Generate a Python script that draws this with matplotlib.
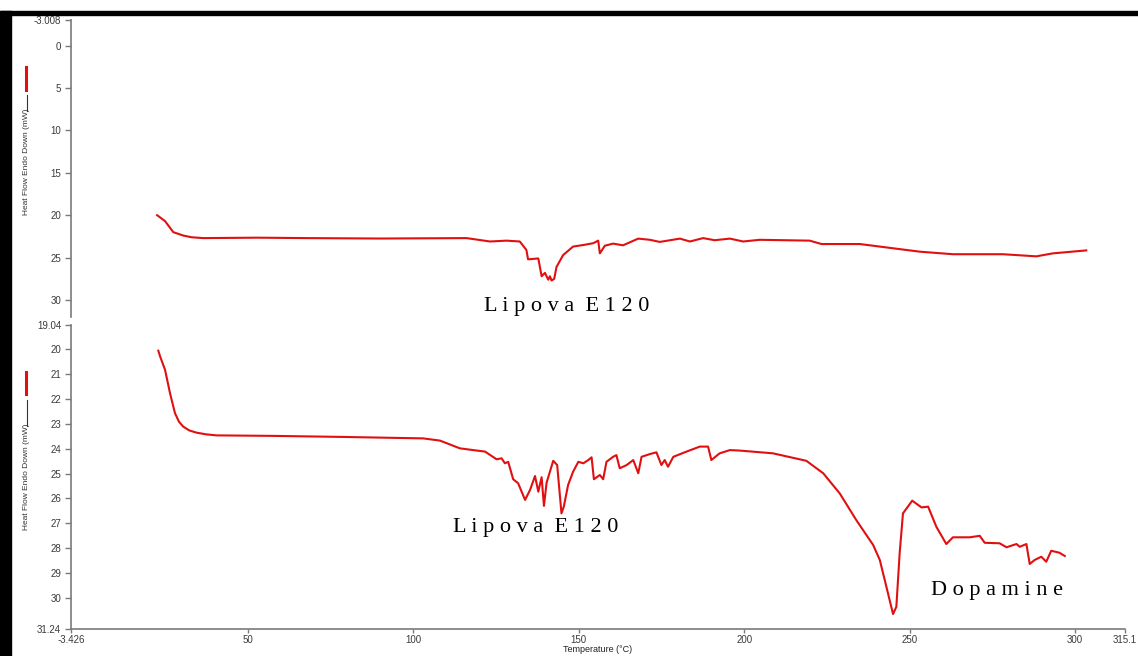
import matplotlib
matplotlib.use("Agg")
import matplotlib.pyplot as plt
from matplotlib.lines import Line2D
from matplotlib.patches import Rectangle

# DSC-Kurven: Lipova E120 allein (oben) und Mischung mit Dopamin (unten)
temp_e120 = [22.6, 25.0, 27.5, 30.5, 33.0, 36.5, 52.7, 67.8, 90.0, 116.1, 123.2,
             128.2, 132.2, 134.2, 134.7, 137.8, 138.8, 139.8, 140.8, 141.3, 141.8,
             142.6, 143.3, 145.3, 148.3, 151.6, 154.4, 155.9, 156.4, 157.9, 160.4,
             163.4, 168.0, 171.5, 174.5, 180.6, 183.6, 187.6, 191.1, 195.7, 199.7,
             204.7, 219.8, 223.4, 235.0, 243.0, 253.1, 263.1, 278.2, 288.3, 293.3,
             303.4]
flow_e120 = [20.0, 20.7, 22.0, 22.4, 22.6, 22.7, 22.65, 22.7, 22.75, 22.7, 23.1,
             23.0, 23.1, 24.1, 25.2, 25.1, 27.2, 26.8, 27.6, 27.2, 27.7,
             27.5, 26.1, 24.7, 23.7, 23.5, 23.3, 23.0, 24.5, 23.6, 23.35,
             23.55, 22.76, 22.9, 23.15, 22.76, 23.1, 22.7, 22.95, 22.76, 23.1,
             22.9, 23.0, 23.4, 23.4, 23.8, 24.3, 24.6, 24.6, 24.85, 24.5,
             24.15]

temp_mix = [22.96, 23.5, 25.0, 26.5, 28.0, 29.2, 30.5, 32.3, 34.5, 37.5, 40.6, 57.7, 77.8,
            103.0, 108.1, 114.1, 118.1, 121.7, 125.2, 126.7, 127.7, 128.7, 130.2,
            131.7, 133.8, 135.3, 136.8, 137.8, 138.8, 139.5, 140.3, 142.3, 143.5,
            144.8, 145.5, 146.8, 148.3, 149.9, 151.4, 152.9, 153.9, 154.6, 156.4,
            157.4, 158.4, 160.4, 161.4, 162.4, 164.5, 166.5, 168.0, 169.0, 171.5,
            173.5, 175.0, 176.0, 177.0, 178.6, 182.6, 186.6, 189.1, 190.1, 192.6,
            195.7, 198.7, 208.7, 218.8, 223.9, 228.9, 233.9, 239.0, 241.0, 243.0,
            245.0, 246.0, 247.0, 248.0, 250.8, 253.6, 255.6, 258.1, 261.1, 263.1,
            268.2, 271.2, 272.7, 277.2, 279.3, 282.3, 283.3, 285.3, 286.3, 287.8,
            289.8, 291.3, 292.8, 295.3, 296.9]
flow_mix = [20.07, 20.3, 20.84, 21.78, 22.58, 22.92, 23.12, 23.27, 23.36, 23.43, 23.47, 23.49, 23.53,
            23.59, 23.68, 23.99, 24.06, 24.12, 24.43, 24.39, 24.59, 24.53, 25.23,
            25.39, 26.06, 25.66, 25.1, 25.73, 25.15, 26.3, 25.37, 24.49, 24.66,
            26.6, 26.33, 25.46, 24.93, 24.53, 24.59, 24.46, 24.35, 25.23, 25.06,
            25.23, 24.53, 24.33, 24.26, 24.79, 24.66, 24.46, 24.99, 24.33, 24.22,
            24.15, 24.66, 24.46, 24.73, 24.33, 24.12, 23.92, 23.92, 24.46, 24.19,
            24.06, 24.08, 24.19, 24.49, 24.99, 25.8, 26.87, 27.87, 28.47, 29.55,
            30.64, 30.35, 28.2, 26.6, 26.09, 26.36, 26.33, 27.14, 27.83, 27.56,
            27.56, 27.5, 27.78, 27.8, 27.96, 27.83, 27.94, 27.83, 28.63, 28.47,
            28.34, 28.54, 28.1, 28.18, 28.31]

x_ticks = [-3.426, 50, 100, 150, 200, 250, 300, 315.1]
x_labels = ["-3.426", "50", "100", "150", "200", "250", "300", "315.1"]
top_ticks = [-3.008, 0, 5, 10, 15, 20, 25, 30]
top_labels = ["-3.008", "0", "5", "10", "15", "20", "25", "30"]
bot_ticks = [19.04, 20, 21, 22, 23, 24, 25, 26, 27, 28, 29, 30, 31.24]
bot_labels = ["19.04"] + [str(v) for v in range(20, 31)] + ["31.24"]

red = "#e01010"
axis_gray = "#7a7a7a"


def spaced(text):
    # Buchstaben gesperrt setzen, Wortabstand doppelt
    return "  ".join(" ".join(word) for word in text.split())


fig = plt.figure(figsize=(11.38, 6.56), dpi=100)
W, H = 1138, 656

ax1 = fig.add_axes([71 / W, 1 - 317 / H, 1054 / W, 297 / H])
ax2 = fig.add_axes([71 / W, 1 - 629 / H, 1054 / W, 304 / H])

ax1.plot(temp_e120, flow_e120, color=red, lw=1.5)
ax2.plot(temp_mix, flow_mix, color=red, lw=1.5)

for ax in (ax1, ax2):
    ax.set_xlim(-3.426, 315.1)
    for s in ("top", "right"):
        ax.spines[s].set_visible(False)
    for s in ("left", "bottom"):
        ax.spines[s].set_color(axis_gray)
        ax.spines[s].set_linewidth(1.2)
    ax.tick_params(direction="out", length=4, width=1, color=axis_gray,
                   labelcolor="#3a3a3a", pad=3)

ax1.set_ylim(32.0, -3.008)
ax1.spines["bottom"].set_visible(False)
ax1.set_xticks([])
ax1.set_yticks(top_ticks, top_labels, fontsize=7, family="Liberation Sans")

ax2.set_ylim(31.24, 19.04)
ax2.set_yticks(bot_ticks, bot_labels, fontsize=7, family="Liberation Sans")
ax2.set_xticks(x_ticks, x_labels, fontsize=7, family="Liberation Sans")
ax2.tick_params(axis="x", length=3, pad=1.5)
ax2.set_xlabel("Temperature (°C)", fontsize=6.5, labelpad=0,
               family="Liberation Sans", color="#222222")

serif = "Liberation Serif"
ax1.text(146.4, 30.8, spaced("Lipova E120"), fontsize=16, family=serif,
         ha="center", va="center")
ax2.text(137.1, 27.15, spaced("Lipova E120"), fontsize=16, family=serif,
         ha="center", va="center")
ax2.text(276.3, 29.68, spaced("Dopamine"), fontsize=16, family=serif,
         ha="center", va="center")

# y-Achsentitel mit Linienlegende
for y_mid, red_seg, black_seg in [(162, (67, 90), (95, 111)),
                                  (477, (372, 394), (400, 426))]:
    fig.text(27 / W, 1 - y_mid / H, "Heat Flow Endo Down (mW)", rotation=90,
             ha="center", va="center", fontsize=6, color="#333333",
             family="Liberation Sans")
    fig.add_artist(Line2D([26 / W, 26 / W], [1 - red_seg[0] / H, 1 - red_seg[1] / H],
                          color=red, lw=2.2, transform=fig.transFigure))
    fig.add_artist(Line2D([27 / W, 27 / W], [1 - black_seg[0] / H, 1 - black_seg[1] / H],
                          color="#333333", lw=0.8, transform=fig.transFigure))

# schwarzer Rahmen links und oben
fig.add_artist(Rectangle((0, 0), 11 / W, 1 - 11 / H, color="black",
                         transform=fig.transFigure))
fig.add_artist(Rectangle((0, 1 - 15 / H), 1, 4 / H, color="black",
                         transform=fig.transFigure))

fig.savefig("out.png", dpi=100)
